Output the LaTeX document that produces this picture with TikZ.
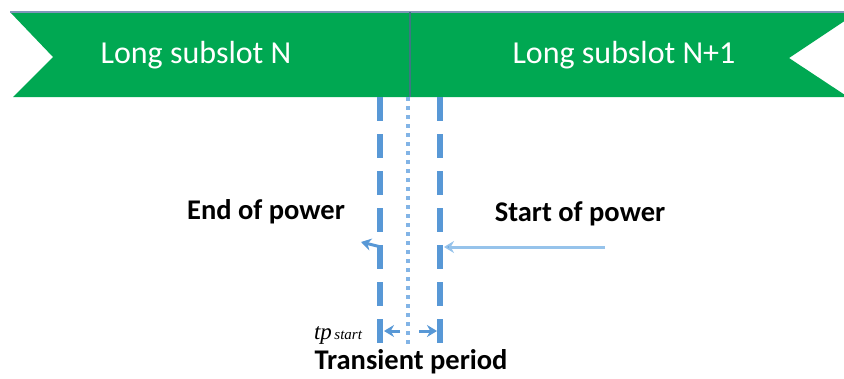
\documentclass[tikz,border=0pt]{standalone}
\usepackage{fontspec}
\setmainfont{Carlito}
\newfontfamily\serifit{Liberation Serif}
\usetikzlibrary{arrows.meta}
\definecolor{bannergreen}{RGB}{0,168,82}
\definecolor{topline}{RGB}{128,150,185}
\definecolor{divline}{RGB}{60,120,130}
\definecolor{dashblue}{RGB}{88,152,214}
\definecolor{dotblue}{RGB}{130,180,230}
\definecolor{arrowlight}{RGB}{150,195,235}
\tikzset{
  bannertext/.style={text=white, font=\fontsize{32}{36}\selectfont, inner sep=0pt},
  labeltext/.style={text=black, font=\bfseries\fontsize{28.5}{32}\selectfont, inner sep=0pt},
  dashline/.style={draw=dashblue, line width=6pt, dash pattern=on 24pt off 13pt},
  dotline/.style={draw=dotblue, line width=3.5pt, dash pattern=on 4pt off 5pt},
  markarrow/.style={draw=dashblue, line width=3pt, -{Stealth[length=10pt,width=12pt]}},
  longarrow/.style={draw=arrowlight, line width=3pt, -{Stealth[length=10pt,width=12pt,fill=dashblue]}},
}
\begin{document}
\begin{tikzpicture}[x=1pt,y=-1pt]
\useasboundingbox (0,0) rectangle (844,378);
\begin{scope}
\clip (0,0) rectangle (844,378);
% banner
\fill[bannergreen] (10,12) -- (858,12) -- (789,58) -- (848,97) -- (13,97) -- (53,57) -- cycle;
\draw[topline, line width=2pt] (10,12) -- (844,12);
\end{scope}
\coordinate (divtop) at (410,12);
\coordinate (divbot) at (410,97);
\draw[divline, line width=1.5pt] (divtop) -- (divbot);
\node[bannertext] (slotN) at (196,55) {Long subslot N};
\node[bannertext] (slotN1) at (624,55) {Long subslot N+1};
% vertical lines
\coordinate (ltop) at (380,97);
\coordinate (lbot) at (380,345);
\coordinate (rtop) at (440,97);
\coordinate (rbot) at (440,345);
\coordinate (ctop) at (408,97);
\coordinate (cbot) at (408,345);
\draw[dashline] (ltop) -- (lbot);
\draw[dashline] (rtop) -- (rbot);
\draw[dotline] (ctop) -- (cbot);
% labels
\node[labeltext] (endp) at (266,212) {End of power};
\node[labeltext] (startp) at (580,214) {Start of power};
\node[labeltext] (trans) at (411,362) {Transient period};
\node[inner sep=0pt, anchor=base] (tp) at (338,339) {\serifit\itshape\fontsize{23}{25}\selectfont tp\fontsize{15}{16}\selectfont\,start};
% arrows
\coordinate (lhook) at (381,247);
\coordinate (lhtip) at (361,242);
\draw[markarrow] (lhook) -- (lhtip);
\coordinate (sarrow) at (605,247);
\coordinate (sarrowtip) at (444,247);
\draw[longarrow] (sarrow) -- (sarrowtip);
\coordinate (bl1) at (400,331);
\coordinate (bl2) at (384,331);
\coordinate (br1) at (419,331);
\coordinate (br2) at (437,331);
\draw[markarrow] (bl1) -- (bl2);
\draw[markarrow] (br1) -- (br2);
\end{tikzpicture}
\end{document}
